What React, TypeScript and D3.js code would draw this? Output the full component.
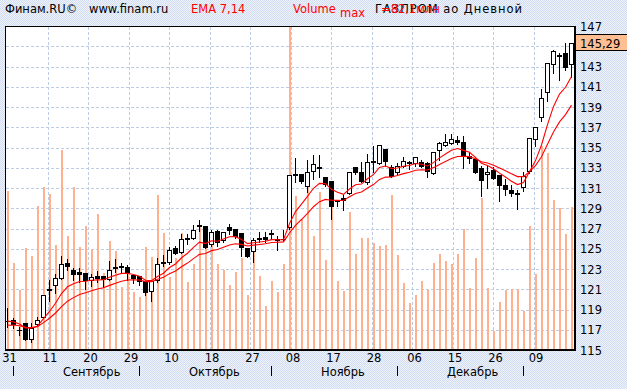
import React from "react";
import * as d3 from "d3";

// daily candles, Aug 31 .. mid January
const opens = [
  117.9, 118.0, 117.0, 117.7, 116.1, 117.6, 118.3, 121.05, 121.4, 122.1,
  123.6, 122.9, 122.7, 122.65, 121.9, 122.3, 122.3, 122.0, 123.2, 123.25,
  123.2, 122.45, 122.3, 121.85, 120.8, 121.9, 123.7, 123.7, 125.05, 124.65,
  126.05, 126.1, 127.35, 127.2, 125.5, 126.8, 125.9, 127.1, 126.95, 126.6,
  125.05, 124.75, 126.05, 126.2, 126.55, 125.95, 126.0, 127.1, 132.35, 132.4,
  131.2, 132.7, 133.05, 132.05, 131.7, 129.8, 130.0, 130.5, 133.05, 132.55,
  131.55, 133.7, 133.45, 134.85, 133.05, 132.55, 133.2, 133.6, 133.45, 133.55,
  133.45, 132.45, 134.75, 135.2, 135.45, 135.7, 135.55, 134.2, 133.9, 133.0,
  132.4, 132.75, 132.3, 131.25, 130.85, 130.5, 131.1, 132.65, 135.85, 138.0,
  140.5, 143.25, 144.1, 144.3, 143.2,
];
const highs = [
  119.2, 118.25, 117.4, 117.8, 117.75, 118.4, 120.5, 122.0, 122.6, 124.4,
  124.1, 123.2, 123.2, 122.7, 122.6, 122.9, 122.4, 123.9, 124.1, 123.7,
  123.5, 122.6, 122.4, 121.9, 122.0, 124.2, 124.5, 125.3, 125.4, 126.6,
  126.6, 127.45, 127.9, 127.3, 126.95, 126.95, 126.8, 127.55, 127.0, 126.7,
  125.15, 126.15, 126.8, 126.8, 126.95, 126.4, 127.0, 132.4, 134.1, 132.5,
  133.9, 134.4, 134.4, 132.2, 131.7, 129.9, 130.4, 132.6, 133.1, 133.7,
  134.5, 135.2, 135.25, 134.9, 133.4, 133.55, 134.2, 133.8, 134.2, 133.9,
  133.7, 134.65, 135.6, 136.4, 136.4, 136.2, 136.2, 134.65, 134.0, 133.3,
  133.3, 133.15, 132.35, 132.0, 131.35, 130.9, 132.65, 136.05, 137.1, 140.9,
  143.4, 144.75, 144.4, 145.4, 145.4,
];
const lows = [
  117.3, 117.2, 116.5, 116.0, 115.8, 117.5, 118.2, 119.8, 120.65, 122.0,
  122.9, 121.9, 121.7, 121.0, 121.3, 121.7, 121.2, 121.9, 122.7, 122.6,
  121.9, 121.6, 121.4, 120.4, 119.8, 121.7, 123.3, 123.5, 124.5, 124.55,
  125.5, 125.95, 126.8, 125.05, 125.3, 125.3, 125.65, 126.45, 126.05, 124.25,
  124.15, 123.7, 125.7, 125.7, 126.1, 124.9, 125.8, 127.0, 131.6, 131.5,
  130.6, 131.9, 132.1, 131.2, 127.95, 129.25, 128.8, 130.4, 132.4, 131.55,
  131.4, 132.55, 133.4, 133.2, 132.05, 132.4, 133.05, 132.9, 133.2, 133.05,
  132.05, 132.35, 133.75, 135.1, 135.3, 135.3, 133.0, 133.5, 132.45, 130.2,
  131.0, 131.85, 129.7, 130.35, 130.2, 128.9, 130.7, 132.5, 135.15, 137.6,
  139.55, 142.35, 141.7, 142.7, 142.0,
];
const closes = [
  117.9, 117.6, 117.0, 116.1, 117.2, 117.95, 120.4, 120.95, 122.1, 123.5,
  123.3, 122.5, 122.5, 121.9, 122.2, 122.1, 122.05, 122.95, 123.05, 123.15,
  122.7, 122.15, 121.8, 120.75, 121.8, 123.5, 123.6, 124.9, 124.6, 126.0,
  125.95, 126.9, 127.25, 125.15, 126.7, 125.65, 126.7, 126.9, 126.25, 125.15,
  124.3, 125.9, 125.95, 126.0, 126.45, 125.9, 125.95, 132.3, 132.3, 131.65,
  132.55, 133.4, 132.95, 131.4, 129.25, 129.75, 129.8, 132.55, 132.6, 131.65,
  133.55, 133.6, 135.2, 133.65, 132.2, 133.2, 133.7, 133.5, 134.05, 133.2,
  132.7, 134.55, 135.45, 135.55, 135.85, 135.5, 134.2, 134.0, 132.55, 131.8,
  132.6, 131.95, 131.25, 130.95, 130.5, 130.4, 132.15, 135.9, 137.05, 139.9,
  143.35, 144.5, 144.0, 143.0, 145.29,
];
// volume, mln
const volumes = [
  40.4, 22.2, 15.3, 26.0, 23.9, 36.6, 41.4, 39.7, 26.7, 50.8,
  29.0, 41.4, 26.2, 31.5, 25.5, 34.6, 19.6, 27.7, 25.2, 16.1,
  19.6, 14.9, 13.6, 26.3, 23.8, 39.4, 29.7, 18.7, 23.4, 29.7,
  17.4, 21.9, 31.5, 28.8, 29.3, 21.9, 20.4, 16.6, 20.0, 23.4,
  14.1, 28.0, 18.9, 11.3, 17.6, 14.9, 21.9, 82.1, 39.2, 33.3,
  45.0, 29.0, 40.2, 22.9, 36.9, 17.7, 15.2, 35.2, 24.5, 28.4,
  28.4, 27.2, 26.5, 26.7, 39.4, 24.2, 17.0, 12.1, 14.1, 17.7,
  15.3, 22.1, 24.5, 22.8, 21.9, 24.5, 30.7, 15.8, 23.4, 38.6,
  15.8, 5.0, 12.4, 15.3, 15.5, 15.5, 10.1, 31.5, 19.4, 51.8,
  50.0, 38.1, 36.0, 29.5, 36.4,
];
const volumeMax = 82.1;

const dayLabels = ["31", "11", "20", "29", "10", "18", "27", "08", "17", "28", "06", "15", "26", "09"];
const gridStep = 6.75; // bars between vertical grid lines
const monthNames = ["Сентябрь", "Октябрь", "Ноябрь", "Декабрь"];
const monthStarts = [1, 22, 44, 65, 86];
const priceTicks = d3.range(115, 148, 2);
const ema14Start = 117.5;
const lastLabel = "145,29";

const font = "'DejaVu Sans', Verdana, sans-serif";

const ema = (vals: number[], n: number, seed: number) => {
  const k = 2 / (n + 1);
  let prev = seed;
  return vals.map((v, i) => (prev = i === 0 ? seed : prev + k * (v - prev)));
};

const snap = (v: number) => Math.round(v - 0.5) + 0.5;

export default function App() {
  const x = d3.scaleLinear().domain([0, closes.length - 1]).range([7.5, 571.5]);
  const y = d3.scaleLinear().domain([115, 147]).range([350.5, 26.5]);
  const yv = d3.scaleLinear().domain([0, volumeMax]).range([350.5, 26.5]);

  const ema7 = ema(closes, 7, closes[0]);
  const ema14 = ema(closes, 14, ema14Start);
  const line = d3
    .line<number>()
    .x((_, i) => x(i))
    .y((d) => y(d));

  const gridX = dayLabels.map((_, k) => Math.floor(x(k * gridStep)) + 0.5);
  const last = closes[closes.length - 1];

  return (
    <svg
      width={627}
      height={389}
      style={{ position: "absolute", left: 0, top: 0, display: "block" }}
      fontFamily={font}
      fontSize={11.5}
    >
      <defs>
        <pattern id="bg" width={2} height={2} patternUnits="userSpaceOnUse">
          <rect width={2} height={2} fill="#eef2fb" />
          <rect width={1} height={1} fill="#d2ddf2" />
          <rect x={1} y={1} width={1} height={1} fill="#d2ddf2" />
        </pattern>
      </defs>
      <rect width={627} height={389} fill="url(#bg)" />
      <rect x={5.5} y={26.5} width={569} height={323} fill="#fff" />

      {/* grid */}
      <g stroke="#bccbe6" strokeDasharray="3,2" shapeRendering="crispEdges">
        {priceTicks.slice(1, -1).map((t) => (
          <line key={t} x1={6} x2={574} y1={snap(y(t))} y2={snap(y(t))} />
        ))}
        {gridX.slice(1).map((gx, k) => (
          <line key={k} x1={gx} x2={gx} y1={27} y2={349} />
        ))}
      </g>

      {/* volume */}
      <g fill="#ffb08e" shapeRendering="crispEdges">
        {volumes.map((v, i) => (
          <rect key={i} x={x(i) - 0.5} y={Math.round(yv(v))} width={2} height={350 - Math.round(yv(v))} />
        ))}
      </g>

      {/* candles */}
      <g shapeRendering="crispEdges">
        {closes.map((c, i) => {
          const o = opens[i];
          const top = snap(y(Math.max(o, c)));
          const bot = snap(y(Math.min(o, c)));
          const cx = x(i);
          return (
            <g key={i}>
              <line x1={cx} x2={cx} y1={snap(y(highs[i]))} y2={snap(y(lows[i]))} stroke="#000" />
              <rect
                x={cx - 2}
                y={top}
                width={4}
                height={Math.max(bot - top, 0.01)}
                fill={c >= o ? "#fff" : "#000"}
                stroke="#000"
              />
            </g>
          );
        })}
      </g>

      {/* EMA 7, 14 */}
      <path d={line(ema7) || ""} fill="none" stroke="#ff0000" strokeWidth={1.1} />
      <path d={line(ema14) || ""} fill="none" stroke="#ff0000" strokeWidth={1.1} />

      {/* frame */}
      <g stroke="#000" shapeRendering="crispEdges">
        <line x1={5.5} x2={5.5} y1={26} y2={351} />
        <line x1={5} x2={575} y1={26.5} y2={26.5} />
        <line x1={574.5} x2={574.5} y1={26} y2={351} strokeWidth={2} />
        <line x1={5} x2={575} y1={350} y2={350} strokeWidth={2} />
      </g>

      {/* right axis (145 sits under the last-price box) */}
      {priceTicks
        .filter((t) => Math.abs(t - last) > 1)
        .map((t) => (
          <text key={t} x={580} y={y(t) + 4.2} fill="#000">
            {t}
          </text>
        ))}
      <rect x={575.5} y={34.5} width={52} height={16} fill="#ffbf92" stroke="#000" shapeRendering="crispEdges" />
      <text x={580} y={y(last) + 4.2} fill="#000">
        {lastLabel}
      </text>

      {/* bottom axis */}
      {dayLabels.map((d, k) => (
        <text key={d + k} x={x(k * gridStep) + 2} y={362} textAnchor="middle" fill="#000">
          {d}
        </text>
      ))}
      <g stroke="#000" shapeRendering="crispEdges">
        {monthStarts.map((s) => (
          <line key={s} x1={snap(x(s))} x2={snap(x(s))} y1={366} y2={376} />
        ))}
      </g>
      {monthNames.map((m, i) => (
        <text key={m} x={x(monthStarts[i]) + 49.5} y={376} fill="#000">
          {m}
        </text>
      ))}

      {/* header */}
      <text x={5} y={12.5} fill="#000">
        Финам.RU©
      </text>
      <text x={89} y={12.5} fill="#000">
        www.finam.ru
      </text>
      <text x={191} y={12.5} fill="#ff0000">
        EMA 7,14
      </text>
      <text x={375} y={12.5} fill="#000" textLength={147} lengthAdjust="spacing">
        ГАЗПРОМ ао Дневной
      </text>
      <text x={293} y={12.5} fill="#ff0000">
        Volume
      </text>
      <text x={340} y={17} fill="#ff0000">
        max
      </text>
      <text x={381} y={12.5} fill="#ff0000">
        =82,1млн
      </text>
    </svg>
  );
}
